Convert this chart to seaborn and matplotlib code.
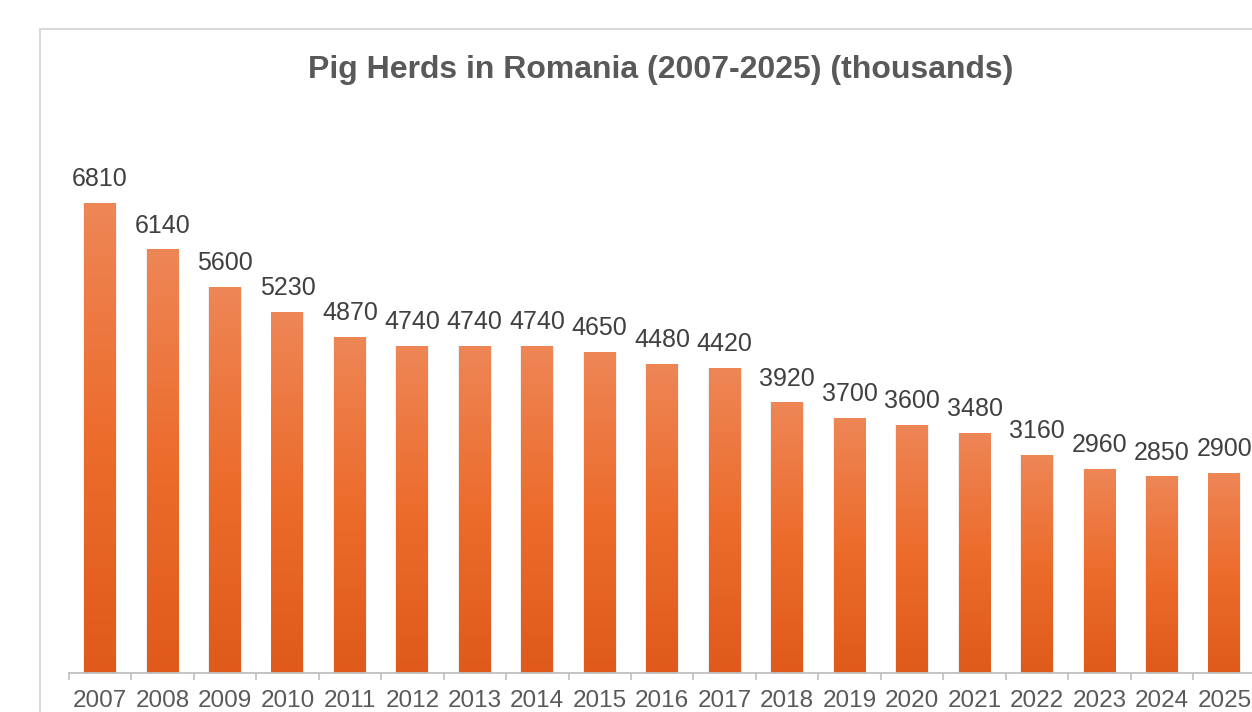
import numpy as np
import pandas as pd
import seaborn as sns
import matplotlib
matplotlib.use("Agg")
import matplotlib.pyplot as plt
from matplotlib.colors import LinearSegmentedColormap
from matplotlib.patches import Rectangle

# ---- data ----
years = ["2007", "2008", "2009", "2010", "2011", "2012", "2013", "2014", "2015", "2016",
         "2017", "2018", "2019", "2020", "2021", "2022", "2023", "2024", "2025"]
values = [6810, 6140, 5600, 5230, 4870, 4740, 4740, 4740, 4650, 4480,
          4420, 3920, 3700, 3600, 3480, 3160, 2960, 2850, 2900]
title = "Pig Herds in Romania (2007-2025) (thousands)"

sns.set_theme(style="white")
plt.rcParams["font.family"] = ["Liberation Sans", "DejaVu Sans"]

W, H = 1252, 712
fig = plt.figure(figsize=(W / 100, H / 100), dpi=100)
fig.patch.set_facecolor("white")

# outer chart border (cropped on right/bottom)
fig.patches.append(Rectangle((40 / W, -0.1), 1.2, (712 - 29) / H + 0.1,
                             transform=fig.transFigure, fill=False,
                             edgecolor="#D9D9D9", linewidth=1.5, zorder=0))

left_px, right_px = 68.8, 1255.6
base_px = 673
ymax = 8000
px_per_unit = 470 / 6810
ax_h_px = ymax * px_per_unit
ax = fig.add_axes([left_px / W, (H - base_px) / H, (right_px - left_px) / W, ax_h_px / H])
ax.patch.set_alpha(0)

df = pd.DataFrame({"year": years, "value": values})
sns.barplot(data=df, x="year", y="value", ax=ax, color="#EA6B2E",
            width=0.51, saturation=1, edgecolor="none")
bars = list(ax.patches)

ax.set_xlim(-0.5, len(years) - 0.5)
ax.set_ylim(0, ymax)

# gradient fill per bar
cmap = LinearSegmentedColormap.from_list("bar", ["#DF5A1B", "#EC6C2C", "#EE8656"])
grad = np.linspace(1, 0, 256).reshape(-1, 1)
for p in bars:
    x0, w, h = p.get_x(), p.get_width(), p.get_height()
    sh = Rectangle((x0 - 0.015, 0), w + 0.03, h, facecolor="#9a9a9a", alpha=0.15,
                   edgecolor="none", zorder=p.get_zorder() - 0.1)
    ax.add_patch(sh)
    im = ax.imshow(grad, extent=[x0, x0 + w, 0, h], aspect="auto", cmap=cmap,
                   vmin=0, vmax=1, zorder=p.get_zorder() + 0.1, interpolation="bilinear")
    im.set_clip_path(p)

ax.set_xlim(-0.5, len(years) - 0.5)
ax.set_ylim(0, ymax)

# data labels
for p, v in zip(bars, values):
    ax.annotate(f"{v}", (p.get_x() + p.get_width() / 2, v), xytext=(0, 12),
                textcoords="offset points", ha="center", va="baseline",
                fontsize=18, color="#404040")

# axes styling
for s in ["top", "right", "left"]:
    ax.spines[s].set_visible(False)
ax.spines["bottom"].set_color("#BFBFBF")
ax.spines["bottom"].set_linewidth(1.3)
ax.set_yticks([])
ax.set_xlabel("")
ax.set_ylabel("")
ax.set_xticks(np.arange(-0.5, len(years), 1.0), minor=True)
ax.tick_params(axis="x", which="minor", bottom=True, length=5, width=1.2,
               color="#BFBFBF", direction="out")
ax.tick_params(axis="x", which="major", bottom=True, length=0, pad=12,
               labelsize=17.5, labelcolor="#595959")

fig.text(661 / W, 1 - 78 / H, title, ha="center", va="baseline",
         fontsize=23, fontweight="bold", color="#595959")

fig.savefig("out.png", dpi=100)
